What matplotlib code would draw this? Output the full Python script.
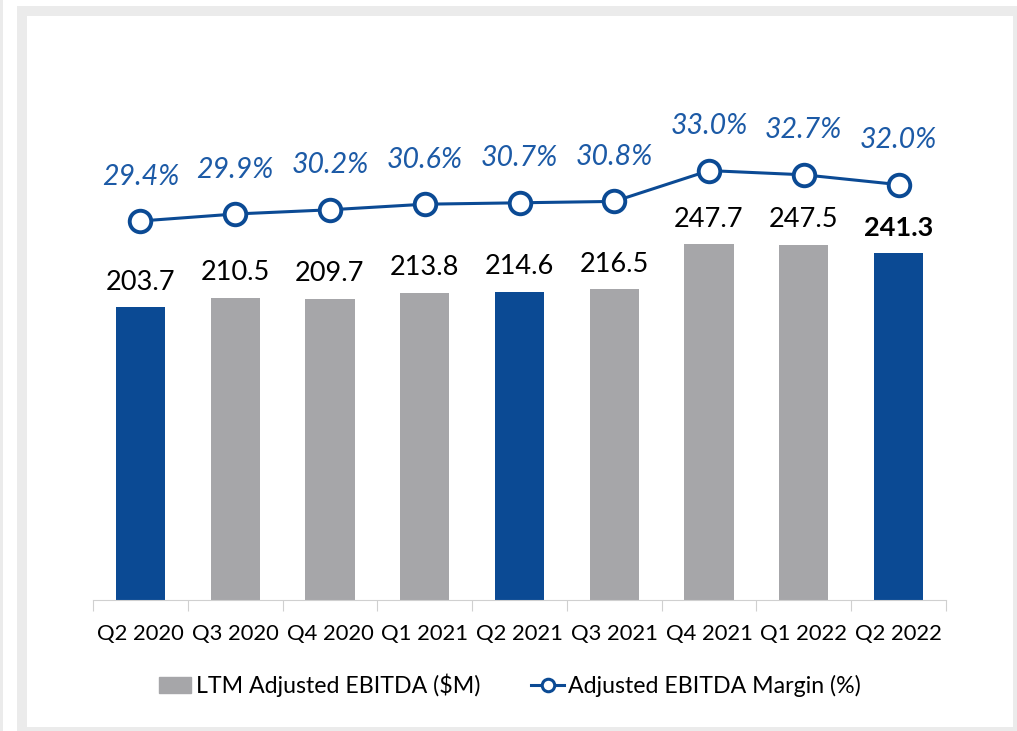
import numpy as np
import matplotlib.pyplot as plt
from matplotlib.patches import Rectangle
from matplotlib.lines import Line2D

# data
quarters = ['Q2 2020', 'Q3 2020', 'Q4 2020', 'Q1 2021', 'Q2 2021',
            'Q3 2021', 'Q4 2021', 'Q1 2022', 'Q2 2022']
ebitda = [203.7, 210.5, 209.7, 213.8, 214.6, 216.5, 247.7, 247.5, 241.3]
margin = [29.4, 29.9, 30.2, 30.6, 30.7, 30.8, 33.0, 32.7, 32.0]
highlight = [True, False, False, False, True, False, False, False, True]

blue = '#0B4A94'
gray = '#A6A6A9'
txt_blue = '#1C5AA6'

plt.rcParams['font.family'] = ['Lato', 'DejaVu Sans']

fig = plt.figure(figsize=(10.17, 7.31), dpi=100)
W, H = 1017, 731

# grey frame around the panel
fig.patches.append(Rectangle((17 / W, 0), 1 - 17 / W, 1 - 6 / H, transform=fig.transFigure,
                             facecolor='#EBEBEB', edgecolor='none', zorder=-2))
fig.patches.append(Rectangle((27 / W, 4 / H), (1013 - 27) / W, (715 - 4) / H,
                             transform=fig.transFigure, facecolor='white',
                             edgecolor='none', zorder=-1))
fig.patches.append(Rectangle((0, 0), 3 / W, 1, transform=fig.transFigure,
                             facecolor='#EBEBEB', edgecolor='none', zorder=-2))

ax = fig.add_axes([93 / W, (H - 600) / H, (946 - 93) / W, 560 / H])
ax.patch.set_alpha(0)
x = np.arange(len(quarters))
colors = [blue if h else gray for h in highlight]
ax.bar(x, ebitda, width=0.52, color=colors, zorder=2)
ax.set_xlim(-0.5, len(quarters) - 0.5)
ax.set_ylim(0, 560 / 1.436)

for i, v in enumerate(ebitda):
    ax.annotate(f'{v:.1f}', (i, v), xytext=(0, 18), textcoords='offset points',
                ha='center', va='center', fontsize=19.5, color='black',
                fontweight='bold' if i == len(ebitda) - 1 else 'normal')

for s in ['top', 'right', 'left']:
    ax.spines[s].set_visible(False)
ax.spines['bottom'].set_color('#D0D0D0')
ax.set_yticks([])
ax.set_xticks(np.arange(-0.5, len(quarters), 1), minor=False)
ax.set_xticklabels([])
ax.tick_params(axis='x', length=8, color='#D0D0D0')
ax.set_xticks(x, minor=True)
ax.set_xticklabels(quarters, minor=True, fontsize=15.8)
ax.tick_params(axis='x', which='minor', length=0, pad=17)

ax2 = ax.twinx()
ax2.set_ylim(29.4 - 379 / 14.0, 29.4 + 181 / 14.0)
ax2.plot(x, margin, color=blue, lw=2.2, marker='o', ms=15.5, mfc='white',
         mec=blue, mew=2.8, zorder=3)
for i, m in enumerate(margin):
    ax2.annotate(f'{m:.1f}%', (i, m), xytext=(0, 32), textcoords='offset points',
                 ha='center', va='center', fontsize=20.5, style='italic', color=txt_blue)
ax2.axis('off')

handles = [Rectangle((0, 0), 1, 1, color=gray),
           Line2D([0], [0], color=blue, lw=2.2, marker='o', ms=9, mfc='white',
                  mec=blue, mew=2.2)]
fig.legend(handles, ['LTM Adjusted EBITDA ($M)', 'Adjusted EBITDA Margin (%)'],
           loc='center', bbox_to_anchor=(510 / W, (H - 685) / H), ncol=2,
           frameon=False, fontsize=16.7, handlelength=1.4, handletextpad=0.2,
           columnspacing=2.2)

fig.savefig('out.png', dpi=100)
